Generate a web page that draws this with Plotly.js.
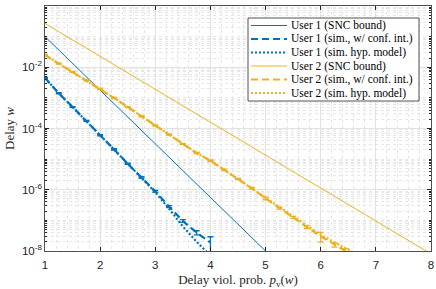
<!DOCTYPE html>
<html><head><meta charset="utf-8">
<script src="https://cdn.plot.ly/plotly-3.0.1.min.js"></script>
<style>html,body{margin:0;padding:0;background:#fff}#chart{width:436px;height:289px}</style>
</head><body><div id="chart"></div>
<script>
// SNC bounds (log10 of y at integer x)
const sncX = [1, 2, 3, 4, 5, 6, 7, 8];
const u1SncLog = [-1.00, -2.75, -4.50, -6.25, -8.00, null, null, null];
const u2SncLog = [-0.57, -1.645, -2.72, -3.795, -4.87, -5.945, -7.02, -8.095];

// User 1 simulations
const u1SimX = [1, 1.25, 1.5, 1.75, 2, 2.25, 2.5, 2.75, 3, 3.25, 3.5, 3.75, 4];
const u1SimLog = [-2.35, -2.85, -3.30, -3.75, -4.22, -4.68, -5.15, -5.60, -6.05, -6.55, -7.02, -7.40, -7.72];
// confidence half-widths (fraction of the value, linear scale)
const u1Conf = [0.04, 0.04, 0.04, 0.04, 0.04, 0.05, 0.05, 0.06, 0.07, 0.08, 0.10, 0.15, 0.53];
const u1HypX = [1, 1.25, 1.5, 1.75, 2, 2.25, 2.5, 2.75, 3, 3.25, 3.5, 3.75, 4];
const u1HypLog = [-2.35, -2.85, -3.30, -3.75, -4.22, -4.68, -5.15, -5.60, -6.08, -6.62, -7.20, -7.70, -8.15];

// User 2 simulations
const u2SimX = [1, 1.25, 1.5, 1.75, 2, 2.25, 2.5, 2.75, 3, 3.25, 3.5, 3.75, 4, 4.25, 4.5, 4.75, 5, 5.25, 5.5, 5.75, 6, 6.25, 6.45];
const u2SimLog = [-1.60, -1.88, -2.15, -2.43, -2.70, -3.00, -3.30, -3.60, -3.90, -4.20, -4.50, -4.80, -5.05, -5.35, -5.65, -5.95, -6.28, -6.60, -6.90, -7.22, -7.52, -7.80, -8.00];
const u2Conf = [0.04, 0.04, 0.04, 0.04, 0.04, 0.04, 0.04, 0.04, 0.04, 0.04, 0.04, 0.04, 0.05, 0.05, 0.05, 0.06, 0.10, 0.07, 0.08, 0.10, 0.35, 0.15, 0.2];
const u2HypX = [1, 1.25, 1.5, 1.75, 2, 2.25, 2.5, 2.75, 3, 3.25, 3.5, 3.75, 4, 4.25, 4.5, 4.75, 5, 5.25, 5.5, 5.75, 6, 6.25, 6.5, 6.6];
const u2HypLog = [-1.60, -1.88, -2.15, -2.43, -2.70, -3.00, -3.30, -3.60, -3.90, -4.20, -4.50, -4.80, -5.05, -5.35, -5.65, -5.95, -6.27, -6.57, -6.87, -7.17, -7.47, -7.72, -7.97, -8.05];

const yTickVals = [1e-8, 1e-6, 1e-4, 1e-2, 1];
const yTickText = ['10<sup>-8</sup>', '10<sup>-6</sup>', '10<sup>-4</sup>', '10<sup>-2</sup>', '10<sup>0</sup>'];
const xTickVals = [1, 2, 3, 4, 5, 6, 7, 8];

const names = ['User 1 (SNC bound)', 'User 1 (sim., w/ conf. int.)', 'User 1 (sim. hyp. model)',
               'User 2 (SNC bound)', 'User 2 (sim., w/ conf. int.)', 'User 2 (sim. hyp. model)'];
const BLUE = '#0072BD', ORANGE = '#EDB120';
const colors = [BLUE, BLUE, BLUE, ORANGE, ORANGE, ORANGE];
const widths = [1, 2.2, 2.2, 1, 2.2, 2.2];
const dashes = ['solid', '7px,4px', '2px,2px', 'solid', '7px,4px', '2px,2px'];

const lin = a => a.map(v => v === null ? null : Math.pow(10, v));
const errAbs = (c, f) => c.map((v, i) => Math.pow(10, v) * f[i]);

const traces = [
  {x: sncX, y: lin(u1SncLog), name: names[0], mode: 'lines', line: {color: colors[0], width: widths[0], dash: dashes[0]}},
  {x: u1SimX, y: lin(u1SimLog), name: names[1], mode: 'lines', line: {color: colors[1], width: widths[1], dash: dashes[1]},
   error_y: {type: 'data', array: errAbs(u1SimLog, u1Conf), color: BLUE, thickness: 1.3, width: 3}},
  {x: u1HypX, y: lin(u1HypLog), name: names[2], mode: 'lines', line: {color: colors[2], width: widths[2], dash: dashes[2]}},
  {x: sncX, y: lin(u2SncLog), name: names[3], mode: 'lines', line: {color: colors[3], width: widths[3], dash: dashes[3]}},
  {x: u2SimX, y: lin(u2SimLog), name: names[4], mode: 'lines', line: {color: colors[4], width: widths[4], dash: dashes[4]},
   error_y: {type: 'data', array: errAbs(u2SimLog, u2Conf), color: ORANGE, thickness: 1.3, width: 3}},
  {x: u2HypX, y: lin(u2HypLog), name: names[5], mode: 'lines', line: {color: colors[5], width: widths[5], dash: dashes[5]}}
];

// custom legend (pixel layout converted to paper coords)
const M = {l: 45, r: 5, t: 6, b: 38}, W = 436, H = 289;
const pw = W - M.l - M.r, ph = H - M.t - M.b;
const px = v => (v - M.l) / pw, py = v => (H - M.b - v) / ph;
const shapes = [{type: 'rect', xref: 'paper', yref: 'paper', x0: px(248), x1: px(419), y0: py(101), y1: py(18),
                 line: {color: '#262626', width: 0.8}, fillcolor: '#fff', layer: 'above'}];
const annotations = [];
names.forEach((n, i) => {
  const yc = 25.5 + i * 13.5;
  shapes.push({type: 'line', xref: 'paper', yref: 'paper', x0: px(251), x1: px(287), y0: py(yc), y1: py(yc),
               line: {color: colors[i], width: widths[i], dash: dashes[i]}, layer: 'above'});
  annotations.push({xref: 'paper', yref: 'paper', x: px(289), y: py(yc), xanchor: 'left', yanchor: 'middle',
                    text: n, showarrow: false, font: {family: 'Liberation Serif', size: 11.5, color: '#000'}});
});

const layout = {
  width: W, height: H,
  margin: M,
  paper_bgcolor: '#fff', plot_bgcolor: '#fff',
  showlegend: false,
  shapes: shapes, annotations: annotations,
  xaxis: {
    range: [1, 8], tickmode: 'array', tickvals: xTickVals, ticks: 'inside', ticklen: 4, tickcolor: '#262626',
    showline: true, linecolor: '#262626', linewidth: 0.8, mirror: 'allticks',
    showgrid: true, gridcolor: '#e3e3e3', gridwidth: 1, zeroline: false, ticklabelstandoff: 3,
    tickfont: {family: 'Liberation Sans, Arial, sans-serif', size: 11.5, color: '#262626'},
    minor: {dtick: 0.2, showgrid: true, gridcolor: '#e6e6e6', griddash: 'dot', ticks: ''},
    title: {text: 'Delay viol. prob. <i>p</i><sub>v</sub>(<i>w</i>)', font: {family: 'Liberation Serif', size: 13, color: '#262626'}, standoff: 5}
  },
  yaxis: {
    type: 'log', range: [-8, 0], tickmode: 'array', tickvals: yTickVals, ticktext: yTickText,
    ticks: 'inside', ticklen: 4, tickcolor: '#262626',
    showline: true, linecolor: '#262626', linewidth: 0.8, mirror: 'allticks',
    showgrid: true, gridcolor: '#e3e3e3', gridwidth: 1, zeroline: false,
    tickfont: {family: 'Liberation Sans, Arial, sans-serif', size: 11.5, color: '#262626'},
    minor: {dtick: 'D1', showgrid: true, gridcolor: '#e6e6e6', griddash: 'dot', ticks: 'inside', ticklen: 2, tickcolor: '#262626'},
    title: {text: 'Delay <i>w</i>', font: {family: 'Liberation Serif', size: 13, color: '#262626'}, standoff: 4}
  }
};

Plotly.newPlot('chart', traces, layout, {staticPlot: true, displayModeBar: false});
</script></body></html>
